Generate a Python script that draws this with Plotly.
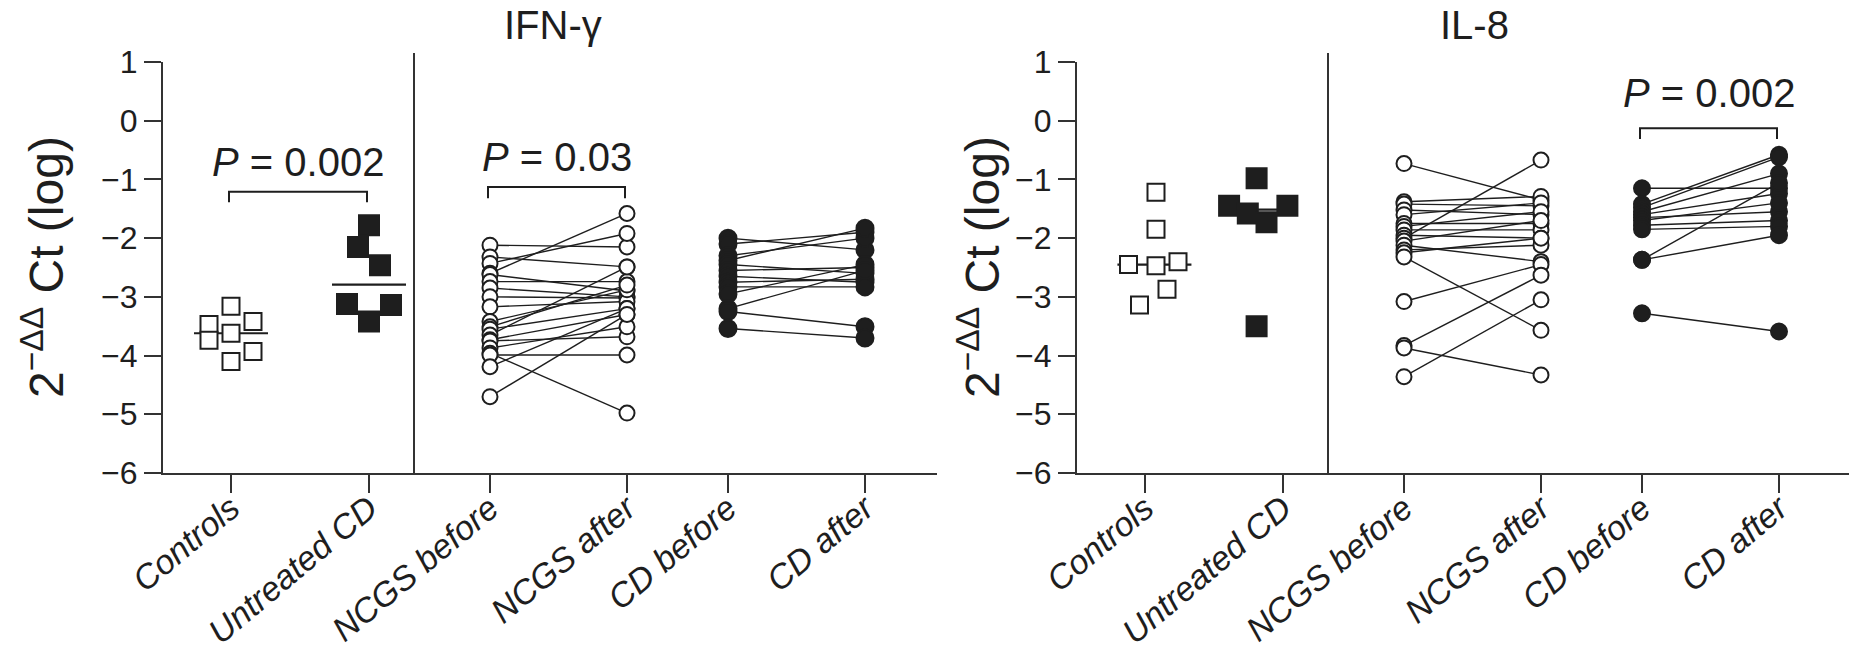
import numpy as np
import plotly.graph_objects as go

# ---------------- data ----------------
categories = ["Controls", "Untreated CD", "NCGS before", "NCGS after", "CD before", "CD after"]
y_ticks = [1, 0, -1, -2, -3, -4, -5, -6]
panel_titles = ["IFN-γ", "IL-8"]

# IFN-gamma
ifn_controls = [-3.16, -3.42, -3.47, -3.62, -3.74, -3.93, -4.10]
ifn_untreated = [-1.78, -2.15, -2.46, -3.12, -3.14, -3.42]
ifn_ncgs_before = [-2.12, -2.32, -2.43, -2.60, -2.62, -2.74, -2.85, -3.00, -3.17, -3.42,
                   -3.51, -3.55, -3.65, -3.73, -3.75, -3.87, -3.96, -3.99, -4.19, -4.70]
ifn_ncgs_after = [-2.15, -2.49, -1.92, -1.58, -2.90, -2.74, -3.00, -3.02, -3.08, -2.88,
                  -2.80, -3.20, -2.49, -3.30, -3.68, -3.51, -4.98, -3.99, -3.20, -3.30]
ifn_cd_before = [-2.00, -2.10, -2.30, -2.38, -2.45, -2.55, -2.65, -2.75, -2.83, -2.95, -3.20, -3.25, -3.54]
ifn_cd_after = [-2.20, -1.90, -2.00, -1.83, -2.60, -2.50, -2.75, -2.70, -2.83, -2.45, -2.55, -3.51, -3.70]

# IL-8
il8_controls = [-1.22, -1.85, -2.45, -2.47, -2.40, -2.87, -3.14]
il8_untreated = [-0.98, -1.45, -1.45, -1.58, -1.73, -3.50]
il8_ncgs_before = [-0.73, -1.38, -1.42, -1.52, -1.60, -1.75, -1.80, -1.86, -1.95, -2.00,
                   -2.05, -2.12, -2.20, -2.25, -2.32, -3.08, -3.83, -3.87, -4.36]
il8_ncgs_after = [-1.35, -1.29, -1.45, -1.60, -1.40, -1.75, -1.55, -1.86, -2.00, -0.67,
                  -1.70, -2.40, -2.12, -2.00, -3.57, -2.45, -2.63, -4.33, -3.05]
il8_cd_before = [-1.15, -1.42, -1.48, -1.55, -1.60, -1.65, -1.70, -1.78, -1.85, -2.37, -2.37, -3.28]
il8_cd_after = [-1.15, -0.58, -0.62, -0.90, -1.24, -1.55, -1.40, -1.70, -1.80, -1.06, -1.95, -3.59]

p_texts = [["0.002", "0.03"], ["0.002"]]

# ---------------- layout helpers (positions / styles) ----------------
cat_pos = [0.68, 2.06, 3.27, 4.64, 5.65, 7.02]   # axis positions of categories
sep_pos = 2.51
swarm_step = 0.11
ifn_controls_cols = [0, 2, -2, 0, -2, 2, 0]
ifn_untreated_cols = [0, -1, 1, -2, 2, 0]
il8_controls_cols = [1, 1, -1.5, 1, 3, 2, -0.5]
il8_untreated_cols = [-2.4, -4.9, 0.4, -3.2, -1.5, -2.4]

INK = "#1e1e1e"
AX = "#333333"
FONT = "Liberation Sans, Arial, Helvetica, sans-serif"

fig = go.Figure()


def add_swarm(xa, ya, ci, vals, cols, symbol, filled, size):
    xs = [cat_pos[ci] + c * swarm_step for c in cols]
    center = cat_pos[ci] + float(np.mean(cols)) * swarm_step
    med = float(np.median(vals))
    fig.add_trace(go.Scatter(x=[center - 0.37, center + 0.37], y=[med, med], mode="lines",
                             line=dict(color=INK, width=2.2), xaxis=xa, yaxis=ya,
                             hoverinfo="skip"))
    fig.add_trace(go.Scatter(x=xs, y=vals, mode="markers", xaxis=xa, yaxis=ya,
                             marker=dict(symbol=symbol, size=size,
                                         color=INK if filled else "white",
                                         line=dict(color=INK, width=2))))


def add_pairs(xa, ya, ci, before, after, filled, size):
    lx, ly = [], []
    for b, a in zip(before, after):
        lx += [cat_pos[ci], cat_pos[ci + 1], None]
        ly += [b, a, None]
    fig.add_trace(go.Scatter(x=lx, y=ly, mode="lines", line=dict(color=INK, width=1.4),
                             xaxis=xa, yaxis=ya, hoverinfo="skip"))
    for ci2, vals in ((ci, before), (ci + 1, after)):
        fig.add_trace(go.Scatter(x=[cat_pos[ci2]] * len(vals), y=vals, mode="markers",
                                 xaxis=xa, yaxis=ya,
                                 marker=dict(symbol="circle", size=size,
                                             color=INK if filled else "white",
                                             line=dict(color=INK, width=2))))


# IFN panel
add_swarm("x", "y", 0, ifn_controls, ifn_controls_cols, "square", False, 17)
add_swarm("x", "y", 1, ifn_untreated, ifn_untreated_cols, "square", True, 20)
add_pairs("x", "y", 2, ifn_ncgs_before, ifn_ncgs_after, False, 15)
add_pairs("x", "y", 4, ifn_cd_before, ifn_cd_after, True, 17)
# IL-8 panel
add_swarm("x2", "y2", 0, il8_controls, il8_controls_cols, "square", False, 17)
add_swarm("x2", "y2", 1, il8_untreated, il8_untreated_cols, "square", True, 20)
add_pairs("x2", "y2", 2, il8_ncgs_before, il8_ncgs_after, False, 15)
add_pairs("x2", "y2", 4, il8_cd_before, il8_cd_after, True, 16)

shapes = []
annotations = []

# separators
for xr, yr in (("x", "y domain"), ("x2", "y2 domain")):
    shapes.append(dict(type="line", xref=xr, yref=yr, x0=sep_pos, x1=sep_pos, y0=0, y1=1.022,
                       line=dict(color=AX, width=2)))

# significance brackets
brackets = [("x", "y", 0, 1, -1.21, -1.39, -0.70, p_texts[0][0]),
            ("x", "y", 2, 3, -1.13, -1.32, -0.61, p_texts[0][1]),
            ("x2", "y2", 4, 5, -0.13, -0.31, 0.47, p_texts[1][0])]
for xr, yr, a, b, ytop, ybot, ytxt, ptxt in brackets:
    x0, x1 = cat_pos[a] - 0.02, cat_pos[b] - 0.02
    shapes.append(dict(type="path", xref=xr, yref=yr,
                       path=f"M {x0},{ybot} L {x0},{ytop} L {x1},{ytop} L {x1},{ybot}",
                       line=dict(color=INK, width=2)))
    annotations.append(dict(xref=xr, yref=yr, x=(x0 + x1) / 2, y=ytxt,
                            text=f"<i>P</i> = {ptxt}", showarrow=False,
                            font=dict(size=40, color=INK, family=FONT),
                            xanchor="center", yanchor="middle"))

# panel titles
for xp, t in ((553 / 1849, panel_titles[0]), (1474 / 1849, panel_titles[1])):
    annotations.append(dict(xref="paper", yref="paper", x=xp, y=(659 - 25) / 659, text=t,
                            showarrow=False, font=dict(size=40, color=INK, family=FONT),
                            xanchor="center", yanchor="middle"))

# y axis titles
for xp in (43 / 1849, 979 / 1849):
    annotations.append(dict(xref="paper", yref="paper", x=xp, y=(659 - 267) / 659,
                            text="2<sup>−ΔΔ</sup> Ct (log)", textangle=-90, showarrow=False,
                            font=dict(size=48, color=INK, family=FONT),
                            xanchor="center", yanchor="middle"))

xcommon = dict(showline=True, linecolor=AX, linewidth=2, ticks="outside", ticklen=18,
               tickwidth=2, tickcolor=AX, tickvals=cat_pos, ticktext=categories,
               tickangle=-40, showgrid=False, zeroline=False, automargin=False,
               ticklabelstandoff=-18,
               tickfont=dict(size=34, color=INK, family=FONT, style="italic"))
ycommon = dict(showline=True, linecolor=AX, linewidth=2, ticks="outside", ticklen=17,
               tickwidth=2, tickcolor=AX, tickvals=y_ticks, range=[-6, 1],
               showgrid=False, zeroline=False, automargin=False,
               tickfont=dict(size=32, color=INK, family=FONT))

ydom = [186 / 659, 597 / 659]
fig.update_layout(
    width=1849, height=659, autosize=False,
    margin=dict(l=0, r=0, t=0, b=0, pad=0),
    paper_bgcolor="white", plot_bgcolor="white",
    showlegend=False,
    xaxis=dict(domain=[163 / 1849, 937 / 1849], range=[0, 7.74], anchor="y", **xcommon),
    xaxis2=dict(domain=[1077 / 1849, 1.0], range=[0, 7.72], anchor="y2", **xcommon),
    yaxis=dict(domain=ydom, anchor="x", **ycommon),
    yaxis2=dict(domain=ydom, anchor="x2", **ycommon),
    shapes=shapes, annotations=annotations,
)

fig.write_html("out.html")
